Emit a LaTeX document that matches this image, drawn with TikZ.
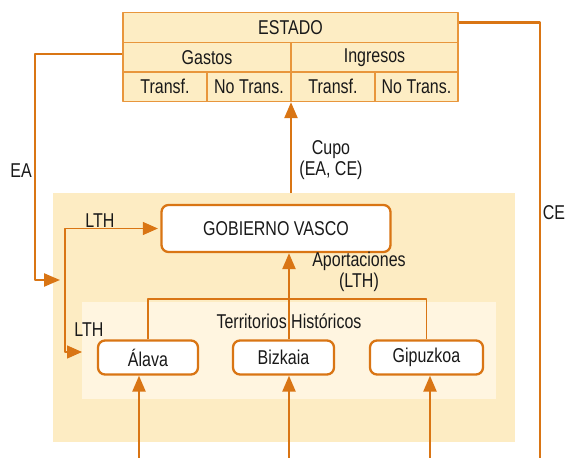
\documentclass[tikz,border=0pt]{standalone}
\usepackage{fontspec}
\setmainfont{Liberation Sans}[FakeStretch=0.8]
\usetikzlibrary{arrows.meta}

\definecolor{flowline}{RGB}{217,117,20}
\definecolor{gridline}{RGB}{232,150,60}
\definecolor{cellfill}{RGB}{253,237,196}
\definecolor{outerfill}{RGB}{253,236,195}
\definecolor{innerfill}{RGB}{255,245,224}
\definecolor{labeltext}{RGB}{25,25,25}

\begin{document}
\begin{tikzpicture}[x=1pt, y=-1pt, line join=round,
  every node/.style={font=\fontsize{20}{21}\selectfont, text=labeltext},
  tablecell/.style={draw=gridline, fill=cellfill, line width=1.3pt, inner sep=0pt, minimum height=29.5pt},
  unitbox/.style={draw=flowline, fill=white, line width=2.3pt, rounded corners=7pt, inner sep=0pt, minimum height=34pt},
  thicklink/.style={draw=flowline, line width=2.3pt},
  thinlink/.style={draw=flowline, line width=1.3pt},
  flow/.style={thicklink, -{Triangle[length=16pt,width=13pt]}},
  thinflow/.style={thinlink, {Triangle[length=15pt,width=13pt]}-{Triangle[length=15pt,width=13pt]}}]
\useasboundingbox (0,0) rectangle (566,458);
\coordinate (cupofoot) at (291,193);
\coordinate (eaturn) at (35,280);
\coordinate (eaend) at (60,280);
\coordinate (ceend) at (540,458);
\coordinate (lthturn) at (65,352);
\coordinate (lthend) at (82,352);
\coordinate (terrbar) at (289,299);
\coordinate (inalava) at (139,458);
\coordinate (inbizkaia) at (289,458);
\coordinate (ingipuzkoa) at (430,458);
\fill[outerfill] (53,193) rectangle (515,442);
\fill[innerfill] (82,302) rectangle (496,399);
% Estado
\node[tablecell, minimum width=335pt, minimum height=30pt] (estado) at (290.5,27.5) {ESTADO};
\node[tablecell, minimum width=168pt] (gastos) at (207,57.25) {Gastos};
\node[tablecell, minimum width=167pt] (ingresos) at (374.5,57.25) {Ingresos};
\node[tablecell, minimum width=84pt] (tg) at (165,86.75) {Transf.};
\node[tablecell, minimum width=84pt] (ng) at (249,86.75) {No Trans.};
\node[tablecell, minimum width=84pt] (ti) at (333,86.75) {Transf.};
\node[tablecell, minimum width=83pt] (ni) at (416.5,86.75) {No Trans.};
% Gobierno y territorios
\node[unitbox, minimum width=229pt, minimum height=47pt] (gv) at (276,228.5) {GOBIERNO VASCO};
\node[unitbox, minimum width=100pt] (alava) at (148,357.5) {Álava};
\node[unitbox, minimum width=101pt] (bizkaia) at (283.5,357.5) {Bizkaia};
\node[unitbox, minimum width=113pt] (gipuzkoa) at (426.5,357.5) {Gipuzkoa};
\node (terr) at (289,321) {Territorios Históricos};
% flujos
\draw[flow] (cupofoot) -- (cupofoot |- ng.south);
\draw[flow] ([yshift=3pt]gastos.west) -| (eaturn) -- (eaend);
\draw[thicklink] ([yshift=5pt]estado.east) -| (ceend);
\draw[thinflow, shorten >=2.5pt] (lthend) -- (lthturn) |- (gv.west);
\draw[thinlink] (alava.north) |- (terrbar) -| (gipuzkoa.north);
\draw[flow] (bizkaia.north -| terrbar) -- (gv.south -| terrbar);
\draw[flow] (inalava) -- (inalava |- alava.south);
\draw[flow] (inbizkaia) -- (inbizkaia |- bizkaia.south);
\draw[flow] (ingipuzkoa) -- (ingipuzkoa |- gipuzkoa.south);
% etiquetas
\node (ealab) at (21,171) {EA};
\node (celab) at (554,213) {CE};
\node[align=center] (cupolab) at (331,160) {Cupo\\(EA, CE)};
\node[align=center] (aportlab) at (359,272) {Aportaciones\\(LTH)};
\node (lthtop) at (100,221) {LTH};
\node (lthbot) at (89,330) {LTH};
\end{tikzpicture}
\end{document}
